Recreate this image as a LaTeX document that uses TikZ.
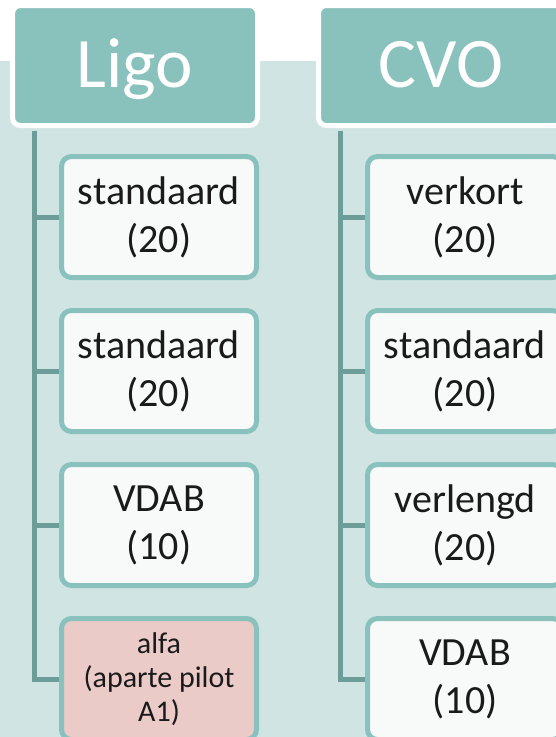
\documentclass[tikz,border=0pt]{standalone}
\usepackage{fontspec}
\setmainfont{Carlito}

\definecolor{achter}{HTML}{D0E5E3}
\definecolor{kopkleur}{HTML}{89C1BD}
\definecolor{rand}{HTML}{89C1BD}
\definecolor{tak}{HTML}{6C9D99}
\definecolor{vak}{HTML}{F8FAFA}
\definecolor{roze}{HTML}{EACBC7}
\definecolor{tekst}{HTML}{1A1A1A}

\begin{document}
\begin{tikzpicture}[x=1pt, y=-1pt, node distance=154pt,
  kop/.style={draw=white, line width=5pt, fill=kopkleur, rounded corners=8pt,
    minimum width=245pt, minimum height=120pt, text=white,
    text height=45pt, text depth=2pt, font=\fontsize{71}{84}\selectfont},
  item/.style={draw=rand, line width=5pt, fill=vak, rounded corners=10pt,
    minimum width=195pt, minimum height=121pt, text=tekst, align=center,
    font=\fontsize{40}{48}\selectfont},
  lijn/.style={draw=tak, line width=5pt}]
\useasboundingbox (0,0) rectangle (556,737);
\clip (0,0) rectangle (556,737);
\fill[achter] (0,61) rectangle (556,737);

\node (ligo)[kop] at (135,65.5) {Ligo};
\node (cvo)[kop] at (441,65.5) {CVO};

\node (l1)[item] at (159,217) {standaard\\(20)};
\node (l2)[item] [below of = l1] {standaard\\(20)};
\node (l3)[item] [below of = l2] {VDAB\\(10)};
\node (l4)[item, fill=roze, font=\fontsize{30}{34}\selectfont] [below of = l3] {alfa\\(aparte pilot\\A1)};

\node (c1)[item] at (465,217) {verkort\\(20)};
\node (c2)[item] [below of = c1] {standaard\\(20)};
\node (c3)[item] [below of = c2] {verlengd\\(20)};
\node (c4)[item] [below of = c3] {VDAB\\(10)};

\foreach \n in {l1,l2,l3,l4}
  \draw[lijn] ([xshift=24.5pt, yshift=-2.5pt]ligo.south west) |- (\n.west);
\foreach \n in {c1,c2,c3,c4}
  \draw[lijn] ([xshift=24.5pt, yshift=-2.5pt]cvo.south west) |- (\n.west);
\end{tikzpicture}
\end{document}
